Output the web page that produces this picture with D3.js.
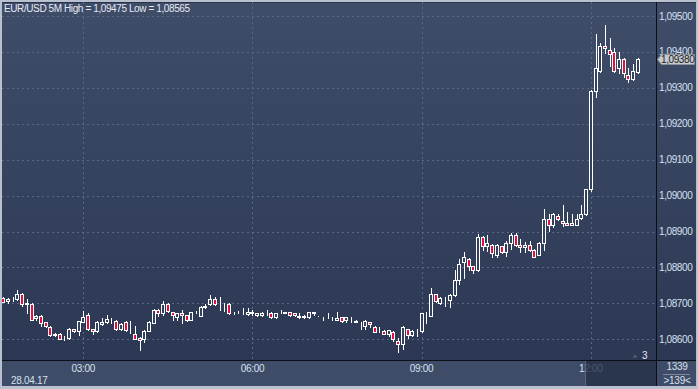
<!DOCTYPE html>
<html><head><meta charset="utf-8">
<script src="https://cdn.jsdelivr.net/npm/d3@7/dist/d3.min.js"></script>
<style>html,body{margin:0;padding:0;background:#b9c1d0;overflow:hidden}svg{display:block}</style>
</head><body><svg id="c" width="698" height="389"></svg>
<script>
const times=["01:35","01:40","01:45","01:50","01:55",
"02:00","02:05","02:10","02:15","02:20","02:25","02:30","02:35","02:40","02:45","02:50","02:55",
"03:00","03:05","03:10","03:15","03:20","03:25","03:30","03:35","03:40","03:45","03:50","03:55",
"04:00","04:05","04:10","04:15","04:20","04:25","04:30","04:35","04:40","04:45","04:50","04:55",
"05:00","05:05","05:10","05:15","05:20","05:25","05:30","05:35","05:40","05:45","05:50","05:55",
"06:00","06:05","06:10","06:15","06:20","06:25","06:30","06:35","06:40","06:45","06:50","06:55",
"07:00","07:05","07:10","07:15","07:20","07:25","07:30","07:35","07:40","07:45","07:50","07:55",
"08:00","08:05","08:10","08:15","08:20","08:25","08:30","08:35","08:40","08:45","08:50","08:55",
"09:00","09:05","09:10","09:15","09:20","09:25","09:30","09:35","09:40","09:45","09:50","09:55",
"10:00","10:05","10:10","10:15","10:20","10:25","10:30","10:35","10:40","10:45","10:50","10:55",
"11:00","11:05","11:10","11:15","11:20","11:25","11:30","11:35","11:40","11:45","11:50","11:55",
"12:00","12:05","12:10","12:15","12:20","12:25","12:30","12:35","12:40","12:45","12:50"];

const open=[1.08716,1.08707,1.08711,1.08711,1.08726,1.08700,1.08698,1.08658,1.08666,1.08647,
1.08635,1.08611,1.08616,1.08604,1.08604,1.08629,1.08623,1.08649,1.08667,1.08629,
1.08623,1.08642,1.08649,1.08652,1.08651,1.08629,1.08648,1.08626,1.08616,1.08605,
1.08602,1.08624,1.08646,1.08681,1.08672,1.08698,1.08675,1.08663,1.08672,1.08667,
1.08655,1.08675,1.08666,1.08691,1.08698,1.08711,1.08700,1.08700,1.08698,1.08674,
1.08674,1.08672,1.08670,1.08674,1.08667,1.08667,1.08674,1.08672,1.08661,1.08676,
1.08672,1.08675,1.08672,1.08666,1.08661,1.08661,1.08672,1.08666,1.08661,1.08661,
1.08660,1.08655,1.08661,1.08655,1.08655,1.08652,1.08644,1.08637,1.08647,1.08635,
1.08623,1.08624,1.08616,1.08621,1.08596,1.08586,1.08629,1.08612,1.08623,1.08623,
1.08672,1.08666,1.08725,1.08700,1.08715,1.08709,1.08723,1.08765,1.08814,1.08823,
1.08803,1.08793,1.08886,1.08859,1.08863,1.08836,1.08859,1.08842,1.08868,1.08889,
1.08863,1.08856,1.08863,1.08849,1.08836,1.08868,1.08935,1.08919,1.08944,1.08928,
1.08924,1.08919,1.08919,1.08938,1.08949,1.09018,1.09292,1.09348,1.09417,1.09406,
1.09399,1.09355,1.09380,1.09336,1.09324,1.09344];

const high=[1.08718,1.08716,1.08717,1.08737,1.08728,1.08711,1.08700,1.08667,1.08668,1.08649,
1.08637,1.08618,1.08618,1.08610,1.08631,1.08630,1.08652,1.08680,1.08672,1.08630,
1.08650,1.08658,1.08667,1.08658,1.08655,1.08644,1.08650,1.08652,1.08637,1.08607,
1.08626,1.08651,1.08683,1.08683,1.08707,1.08700,1.08677,1.08674,1.08681,1.08669,
1.08677,1.08679,1.08693,1.08698,1.08723,1.08719,1.08719,1.08701,1.08700,1.08675,
1.08679,1.08686,1.08686,1.08681,1.08673,1.08676,1.08681,1.08676,1.08673,1.08681,
1.08676,1.08676,1.08673,1.08674,1.08667,1.08677,1.08676,1.08666,1.08663,1.08672,
1.08661,1.08676,1.08662,1.08662,1.08661,1.08653,1.08649,1.08655,1.08648,1.08636,
1.08635,1.08625,1.08626,1.08622,1.08605,1.08637,1.08630,1.08625,1.08630,1.08674,
1.08677,1.08742,1.08727,1.08718,1.08717,1.08725,1.08793,1.08823,1.08844,1.08825,
1.08805,1.08893,1.08888,1.08889,1.08865,1.08865,1.08861,1.08875,1.08895,1.08895,
1.08879,1.08870,1.08875,1.08851,1.08870,1.08963,1.08949,1.08951,1.08949,1.08975,
1.08954,1.08949,1.08949,1.08975,1.09018,1.09295,1.09450,1.09424,1.09475,1.09438,
1.09410,1.09399,1.09382,1.09355,1.09367,1.09382];

const low=[1.08703,1.08700,1.08707,1.08709,1.08693,1.08674,1.08653,1.08654,1.08637,1.08633,
1.08610,1.08609,1.08600,1.08598,1.08602,1.08621,1.08612,1.08647,1.08627,1.08616,
1.08619,1.08640,1.08644,1.08646,1.08627,1.08627,1.08624,1.08618,1.08600,1.08570,
1.08593,1.08622,1.08644,1.08665,1.08667,1.08677,1.08654,1.08654,1.08644,1.08650,
1.08653,1.08673,1.08664,1.08686,1.08696,1.08696,1.08681,1.08680,1.08670,1.08671,
1.08672,1.08671,1.08667,1.08667,1.08666,1.08666,1.08667,1.08660,1.08660,1.08672,
1.08672,1.08666,1.08666,1.08660,1.08660,1.08660,1.08667,1.08665,1.08655,1.08659,
1.08655,1.08655,1.08649,1.08648,1.08648,1.08647,1.08630,1.08630,1.08635,1.08620,
1.08621,1.08615,1.08609,1.08596,1.08565,1.08572,1.08605,1.08610,1.08609,1.08621,
1.08646,1.08664,1.08705,1.08698,1.08693,1.08689,1.08721,1.08754,1.08772,1.08793,
1.08784,1.08791,1.08849,1.08847,1.08828,1.08828,1.08840,1.08833,1.08851,1.08861,
1.08842,1.08842,1.08847,1.08828,1.08834,1.08849,1.08902,1.08912,1.08933,1.08916,
1.08918,1.08918,1.08918,1.08936,1.08947,1.09014,1.09274,1.09343,1.09398,1.09360,
1.09343,1.09341,1.09329,1.09315,1.09322,1.09342];

const close=[1.08705,1.08711,1.08712,1.08726,1.08698,1.08699,1.08655,1.08666,1.08646,1.08637,
1.08612,1.08616,1.08602,1.08605,1.08629,1.08623,1.08651,1.08663,1.08629,1.08623,
1.08648,1.08649,1.08656,1.08651,1.08629,1.08642,1.08626,1.08625,1.08602,1.08598,
1.08623,1.08649,1.08681,1.08672,1.08698,1.08680,1.08667,1.08672,1.08667,1.08655,
1.08675,1.08676,1.08691,1.08693,1.08711,1.08698,1.08701,1.08700,1.08672,1.08672,
1.08674,1.08674,1.08676,1.08675,1.08672,1.08672,1.08674,1.08661,1.08672,1.08676,
1.08676,1.08667,1.08667,1.08661,1.08666,1.08676,1.08676,1.08665,1.08661,1.08661,
1.08660,1.08660,1.08650,1.08661,1.08655,1.08648,1.08644,1.08650,1.08642,1.08621,
1.08623,1.08616,1.08625,1.08602,1.08586,1.08635,1.08612,1.08623,1.08624,1.08672,
1.08673,1.08725,1.08707,1.08716,1.08716,1.08723,1.08765,1.08810,1.08830,1.08803,
1.08793,1.08886,1.08859,1.08868,1.08840,1.08863,1.08842,1.08868,1.08889,1.08863,
1.08856,1.08863,1.08849,1.08830,1.08868,1.08935,1.08919,1.08949,1.08935,1.08924,
1.08919,1.08924,1.08935,1.08949,1.09018,1.09292,1.09355,1.09417,1.09410,1.09394,
1.09348,1.09380,1.09341,1.09324,1.09348,1.09380];

const priceTicks=[1.086,1.087,1.088,1.089,1.090,1.091,1.092,1.093,1.094,1.095];
const timeTicks=["03:00","06:00","09:00","12:00"];
const dateLabel="28.04.17";
const titleText="EUR/USD 5M  High = 1,09475 Low = 1,08565";
const lastPrice=1.09380;
const counterTop="1339", counterBottom=">139<", shiftLabel="3";

const W=698,H=389, L=2, T=2, R=656, B=360, RW=696, BB=386;
const svg=d3.select("#c");
const defs=svg.append("defs");
const g1=defs.append("linearGradient").attr("id","bg").attr("x1",0).attr("y1",0).attr("x2",0).attr("y2",1);
g1.append("stop").attr("offset","0%").attr("stop-color","#3f4d69");
g1.append("stop").attr("offset","100%").attr("stop-color","#2c3853");
defs.append("clipPath").attr("id","clip").append("rect").attr("x",L).attr("y",T).attr("width",R-L).attr("height",B-T);

const fmt=p=>p.toFixed(5).replace(".",",");
const x=d3.scalePoint().domain(times).range([3.3,637.8]);
const y=d3.scaleLinear().domain([1.086,1.095]).range([339.3,16]);

// panels
svg.append("rect").attr("x",L).attr("y",T).attr("width",R-L).attr("height",B-T).attr("fill","url(#bg)");
svg.append("rect").attr("x",R).attr("y",T).attr("width",RW-R).attr("height",B-T).attr("fill","url(#bg)");
svg.append("rect").attr("x",L).attr("y",B).attr("width",RW-L).attr("height",BB-B).attr("fill","#3f4c67");
svg.append("line").attr("x1",L).attr("x2",RW).attr("y1",T+0.5).attr("y2",T+0.5).attr("stroke","#2a3347");

// grid
const grid=svg.append("g").attr("stroke","#5a6886").attr("stroke-dasharray","2,3").attr("stroke-width",1);
priceTicks.forEach(p=>{const yy=Math.round(y(p))+0.5;
  grid.append("line").attr("x1",L).attr("x2",R).attr("y1",yy).attr("y2",yy);});
timeTicks.forEach(t=>{const xx=Math.round(x(t))+0.5;
  grid.append("line").attr("x1",xx).attr("x2",xx).attr("y1",T).attr("y2",B);});

// candles
const cg=svg.append("g").attr("clip-path","url(#clip)");
times.forEach((t,i)=>{
  const px=Math.round(x(t));
  const o=open[i],c=close[i],h=high[i],l=low[i];
  const bear=c<o;
  const yh=Math.round(y(h)), yl=Math.round(y(l));
  const yt=Math.round(y(Math.max(o,c))), yb=Math.round(y(Math.min(o,c)));
  cg.append("line").attr("x1",px+0.5).attr("x2",px+0.5).attr("y1",yh).attr("y2",yl+1)
    .attr("stroke","#ffffff").attr("stroke-width",1);
  cg.append("rect").attr("x",px-1.5).attr("y",yt+0.5).attr("width",3).attr("height",Math.max(yb-yt,0))
    .attr("fill",bear?"#e2103c":"#34415c").attr("stroke","#ffffff").attr("stroke-width",1);
});

// separators
svg.append("line").attr("x1",R+0.5).attr("x2",R+0.5).attr("y1",T).attr("y2",BB).attr("stroke","#0b0f18");
svg.append("line").attr("x1",L).attr("x2",RW).attr("y1",B+0.5).attr("y2",B+0.5).attr("stroke","#0b0f18");

const font="'Liberation Sans', Arial, sans-serif";
// title
svg.append("text").attr("x",4).attr("y",12).attr("font-family",font).attr("font-size",10)
  .attr("letter-spacing","-0.4px").attr("fill","#e6eaf2").text(titleText);

// right axis labels
priceTicks.forEach(p=>{
  svg.append("text").attr("x",659).attr("y",y(p)+3.5).attr("font-family",font).attr("font-size",10)
    .attr("letter-spacing","-0.4px").attr("fill","#d6e0f0").text(fmt(p));
});

// bottom labels
timeTicks.forEach(t=>{
  svg.append("text").attr("x",x(t)).attr("y",372).attr("text-anchor","middle").attr("font-family",font)
    .attr("font-size",10).attr("letter-spacing","-0.3px").attr("fill","#d6e0f0").text(t);
});
svg.append("text").attr("x",11).attr("y",383.5).attr("font-family",font).attr("font-size",10)
  .attr("letter-spacing","-0.3px").attr("fill","#d6e0f0").text(dateLabel);

// shifted region overlay
svg.append("rect").attr("x",586).attr("y",B+1).attr("width",R-586).attr("height",BB-B-1)
  .attr("fill","#263049").attr("opacity",0.8);
svg.append("line").attr("x1",585.5).attr("x2",585.5).attr("y1",B+1).attr("y2",BB).attr("stroke","#5d6678");

// corner counter
svg.append("rect").attr("x",R+1).attr("y",B+1).attr("width",RW-R-1).attr("height",BB-B-1).attr("fill","#3f4c67");
svg.append("text").attr("x",677).attr("y",370).attr("text-anchor","middle").attr("font-family",font)
  .attr("font-size",10).attr("letter-spacing","-0.3px").attr("fill","#d6e0f0").text(counterTop);
svg.append("line").attr("x1",663).attr("x2",690).attr("y1",374.5).attr("y2",374.5).attr("stroke","#7d889c");
svg.append("text").attr("x",677).attr("y",384).attr("text-anchor","middle").attr("font-family",font)
  .attr("font-size",10).attr("letter-spacing","-0.3px").attr("fill","#d6e0f0").text(counterBottom);

// shift marker
svg.append("path").attr("d","M632.5,357.5 L635,354.5 L637.5,357.5 Z").attr("fill","#566179");
svg.append("text").attr("x",642).attr("y",358.5).attr("font-family",font).attr("font-size",10)
  .attr("fill","#e6eaf2").text(shiftLabel);

// last price tag
const ly=Math.round(y(lastPrice))+0.5;
svg.append("path").attr("d",`M657.5,${ly} L661.5,${ly-5} L694.5,${ly-5} L694.5,${ly+5} L661.5,${ly+5} Z`)
  .attr("fill","#c6c9ce").attr("stroke","#8d929a");
svg.append("text").attr("x",661).attr("y",ly+3.5).attr("font-family",font).attr("font-size",10)
  .attr("letter-spacing","-0.4px").attr("fill","#1c1c1c").text(fmt(lastPrice));
</script></body></html>
